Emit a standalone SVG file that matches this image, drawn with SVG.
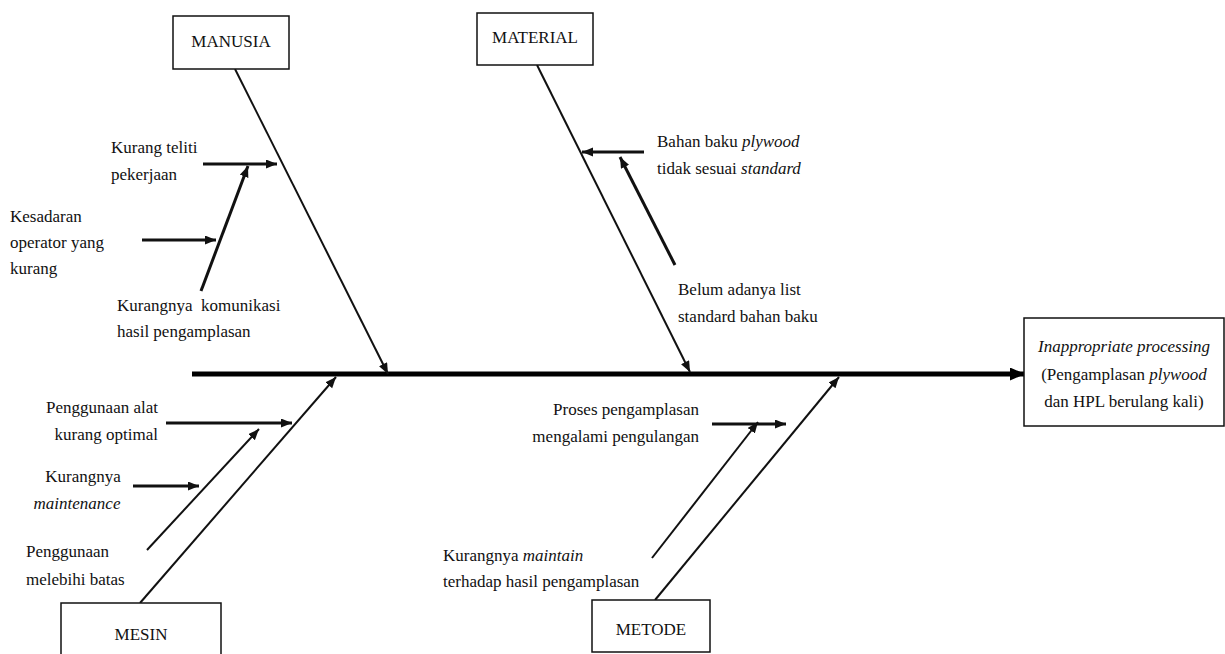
<svg xmlns="http://www.w3.org/2000/svg" width="1225" height="654" viewBox="0 0 1225 654">
<style>
text{font-family:'Liberation Serif','Noto Serif','DejaVu Serif',serif;font-size:17px;fill:#111}
.box{fill:#fff;stroke:#111;stroke-width:1.5}
.lbl{font-size:17px;text-anchor:middle}
.bone{stroke:#111;stroke-width:2;fill:none}
.sub{stroke:#111;stroke-width:3;fill:none}
.spine{stroke:#000;stroke-width:5;fill:none}
.r{text-anchor:end}
.c{text-anchor:middle}
</style>
<defs>
<marker id="ah" markerUnits="userSpaceOnUse" markerWidth="12" markerHeight="10" refX="11" refY="4.5" orient="auto"><path d="M0,0 L11,4.5 L0,9 z" fill="#111"/></marker>
<marker id="ahb" markerUnits="userSpaceOnUse" markerWidth="16" markerHeight="14" refX="15" refY="6.5" orient="auto"><path d="M0,0 L15,6.5 L0,13 z" fill="#000"/></marker>
</defs>
<rect width="1225" height="654" fill="#fff"/>
<g id="connectors">
<line class="spine" x1="192" y1="374" x2="1025" y2="374" marker-end="url(#ahb)"/>
<line class="bone" x1="235" y1="69" x2="388" y2="374" marker-end="url(#ah)"/>
<line class="bone" x1="537" y1="65" x2="690" y2="372" marker-end="url(#ah)"/>
<line class="bone" x1="140" y1="603" x2="336" y2="377" marker-end="url(#ah)"/>
<line class="bone" x1="655" y1="600" x2="839" y2="377" marker-end="url(#ah)"/>
<line class="sub" x1="203" y1="164" x2="277" y2="164" marker-end="url(#ah)"/>
<line class="sub" x1="142" y1="240" x2="216" y2="240" marker-end="url(#ah)"/>
<line class="sub" x1="201" y1="291" x2="248" y2="166" marker-end="url(#ah)"/>
<line class="sub" x1="644" y1="152" x2="582" y2="152" marker-end="url(#ah)"/>
<line class="sub" x1="675" y1="265" x2="620" y2="157" marker-end="url(#ah)"/>
<line class="sub" x1="166" y1="423" x2="292" y2="423" marker-end="url(#ah)"/>
<line class="sub" x1="133" y1="486" x2="199" y2="486" marker-end="url(#ah)"/>
<line class="bone" x1="147" y1="550" x2="259" y2="429" marker-end="url(#ah)"/>
<line class="sub" x1="712" y1="424" x2="786" y2="424" marker-end="url(#ah)"/>
<line class="bone" x1="652" y1="558" x2="758" y2="422" marker-end="url(#ah)"/>
</g>
<g id="manusia">
<rect class="box" x="173" y="16" width="116" height="53"/>
<text class="lbl" x="231" y="47">MANUSIA</text>
</g>
<g id="material">
<rect class="box" x="477" y="13" width="116" height="52"/>
<text class="lbl" x="535" y="43">MATERIAL</text>
</g>
<g id="mesin">
<rect class="box" x="61" y="603" width="160" height="60"/>
<text class="lbl" x="141" y="640">MESIN</text>
</g>
<g id="metode">
<rect class="box" x="592" y="600" width="118" height="52"/>
<text class="lbl" x="651" y="635">METODE</text>
</g>
<g id="effect">
<rect class="box" x="1024" y="318" width="200" height="108"/>
<text class="c" x="1124" y="352" font-style="italic">Inappropriate processing</text>
<text class="c" x="1124" y="380">(Pengamplasan <tspan font-style="italic">plywood</tspan></text>
<text class="c" x="1124" y="407">dan HPL berulang kali)</text>
</g>
<g id="cause-kurang-teliti">
<text x="111" y="153">Kurang teliti</text>
<text x="111" y="180">pekerjaan</text>
</g>
<g id="cause-kesadaran">
<text x="10" y="222">Kesadaran</text>
<text x="10" y="248">operator yang</text>
<text x="10" y="274">kurang</text>
</g>
<g id="cause-komunikasi">
<text x="117" y="311" xml:space="preserve">Kurangnya  komunikasi</text>
<text x="117" y="337">hasil pengamplasan</text>
</g>
<g id="cause-bahan-baku">
<text x="657" y="147">Bahan baku <tspan font-style="italic">plywood</tspan></text>
<text x="657" y="174">tidak sesuai <tspan font-style="italic">standard</tspan></text>
</g>
<g id="cause-list-standard">
<text x="678" y="295">Belum adanya list</text>
<text x="678" y="322">standard bahan baku</text>
</g>
<g id="cause-alat">
<text class="r" x="158" y="413">Penggunaan alat</text>
<text class="r" x="158" y="440">kurang optimal</text>
</g>
<g id="cause-maintenance">
<text class="c" x="83" y="482">Kurangnya</text>
<text class="c" x="77" y="509" font-style="italic">maintenance</text>
</g>
<g id="cause-melebihi">
<text x="26" y="557">Penggunaan</text>
<text x="26" y="585">melebihi batas</text>
</g>
<g id="cause-proses">
<text class="r" x="699" y="415">Proses pengamplasan</text>
<text class="r" x="699" y="442">mengalami pengulangan</text>
</g>
<g id="cause-maintain">
<text x="443" y="561">Kurangnya <tspan font-style="italic">maintain</tspan></text>
<text x="443" y="587">terhadap hasil pengamplasan</text>
</g>
</svg>
